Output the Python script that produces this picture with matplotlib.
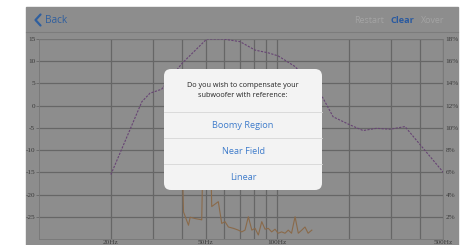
import matplotlib
matplotlib.use("Agg")
import matplotlib.pyplot as plt
from matplotlib.patches import Rectangle, FancyBboxPatch

# target curve (dashed) - frequency in Hz, level in dB
target_hz = [20, 27, 29.2, 32.7, 39.8, 50.6, 59.3, 69.9, 80.8, 91.6, 101, 119,
             156, 172, 202, 230, 262, 299, 345, 500]
target_db = [-15.5, 0.9, 2.8, 3.7, 9.5, 15.0, 15.0, 14.4, 12.5, 11.9, 11.2, 8.8,
             1.7, -2.5, -4.3, -5.6, -5.1, -5.3, -4.7, -15.0]

# measured response (solid), mostly hidden behind the dialog
meas_hz = [39.8, 40.4, 42.4, 43.1, 45.2, 47.4, 48.2, 48.8, 52.6, 53.1, 56.6,
           58.5, 60.4, 62.4, 65.5, 68.7, 71, 73.3, 75.7, 78.3, 80.8, 83.4, 86.2,
           89, 91.8, 94.9, 98, 101, 104.5, 108, 111.4, 115, 119, 122.8, 127,
           131, 135, 140]
meas_db = [-10, -23.9, -26.9, -25.1, -25.4, -25.6, -25.7, -10, -12, -22.7,
           -21.6, -26.5, -26.1, -27.3, -27.6, -28.0, -28.4, -28.0, -25.0, -28.0,
           -27.6, -29.1, -26.1, -27.8, -27.6, -28.4, -27.8, -28.7, -28.4, -28.7,
           -28.0, -28.7, -25.0, -28.7, -28.0, -27.3, -28.7, -28.0]

grid_hz = [20, 30, 40, 50, 60, 70, 80, 90, 100, 200, 300, 400, 500]
x_labels = {20: "20Hz", 50: "50Hz", 100: "100Hz", 500: "500Hz"}
db_ticks = [15, 10, 5, 0, -5, -10, -15, -20, -25]
pct_ticks = [2, 4, 6, 8, 10, 12, 14, 16, 18]

bg = "#8d8d8d"
grid_c = "#666666"
txt_c = "#3a3a3a"

fig = plt.figure(figsize=(4.68, 2.45), dpi=100)
fig.patch.set_facecolor("white")

# background layer in pixel coordinates
back = fig.add_axes([0, 0, 1, 1], zorder=0)
back.set_xlim(0, 468)
back.set_ylim(245, 0)
back.axis("off")
back.add_patch(Rectangle((26, 7), 432, 240, color=bg))
back.plot([26, 458], [32.5, 32.5], color="#7c7c7c", lw=0.8)
back.plot([40.5, 35.5, 40.5], [14.5, 20, 25.5], color="#2f5f9f", lw=1.6,
          solid_capstyle="round", solid_joinstyle="round")
back.text(44.5, 20.5, "Back", color="#2f5f9f", fontsize=7.2, va="center",
          family="Open Sans")
back.text(369, 20.5, "Restart", color="#a4a4a4", fontsize=6.4, va="center",
          ha="center", family="Open Sans")
back.text(402, 20.5, "Clear", color="#2a5aa0", fontsize=6.6, va="center",
          ha="center", weight="bold", family="Open Sans")
back.text(433, 20.5, "Xover", color="#a4a4a4", fontsize=6.4, va="center",
          ha="center", family="Open Sans")

# chart
ax = fig.add_axes([39.3 / 468, 6 / 245, 404 / 468, 200 / 245], zorder=1)
ax.set_facecolor(bg)
ax.set_xscale("log")
ax.set_xlim(10, 500)
ax.set_ylim(-30, 15)
ax.set_xticks(grid_hz)
ax.set_xticklabels([x_labels.get(f, "") for f in grid_hz])
ax.xaxis.set_minor_locator(matplotlib.ticker.NullLocator())
ax.set_yticks(db_ticks)
ax.set_yticklabels([str(v) for v in db_ticks])
ax.grid(True, color=grid_c, lw=0.9)
for s in ax.spines.values():
    s.set_color("#777777")
    s.set_linewidth(0.6)
ax.tick_params(axis="y", length=2, width=0.6, color=grid_c, pad=1,
               labelsize=5.2, labelcolor=txt_c)
ax.tick_params(axis="x", length=0, pad=0.5, labelsize=5.2, labelcolor=txt_c)
for lab in ax.get_xticklabels() + ax.get_yticklabels():
    lab.set_family("Liberation Serif")

ax.plot(meas_hz, meas_db, color="#8a6a4a", lw=0.8, zorder=3)
ax.plot(target_hz, target_db, color="#674474", lw=0.8, ls=(0, (2, 1.2)),
        zorder=4)

pct = ax.twinx()
pct.set_ylim(0, 18)
pct.set_yticks(pct_ticks)
pct.set_yticklabels([f"{v}%" for v in pct_ticks])
pct.tick_params(axis="y", length=0, pad=1.5, labelsize=5.2, labelcolor=txt_c)
for lab in pct.get_yticklabels():
    lab.set_family("Liberation Serif")
for s in pct.spines.values():
    s.set_visible(False)

# modal dialog on top
top = fig.add_axes([0, 0, 1, 1], zorder=5)
top.set_xlim(0, 468)
top.set_ylim(245, 0)
top.axis("off")
top.patch.set_alpha(0)
top.add_patch(FancyBboxPatch((164, 69), 158, 121,
                             boxstyle="round,pad=0,rounding_size=7",
                             fc="#f3f3f3", ec="none"))
top.text(243, 90.5, "Do you wish to compensate your\nsubwoofer with reference:",
         ha="center", va="center", fontsize=5.2, color="#222222",
         linespacing=1.65, family="Open Sans")
for yy in [112, 138, 164]:
    top.plot([164, 322], [yy, yy], color="#d6d6d6", lw=0.6)
blue = "#3f7ccb"
for yy, label in [(125.5, "Boomy Region"), (151, "Near Field"), (177, "Linear")]:
    top.text(243, yy, label, ha="center", va="center", fontsize=6.6,
             color=blue, family="Open Sans")

fig.savefig("out.png", dpi=100)
